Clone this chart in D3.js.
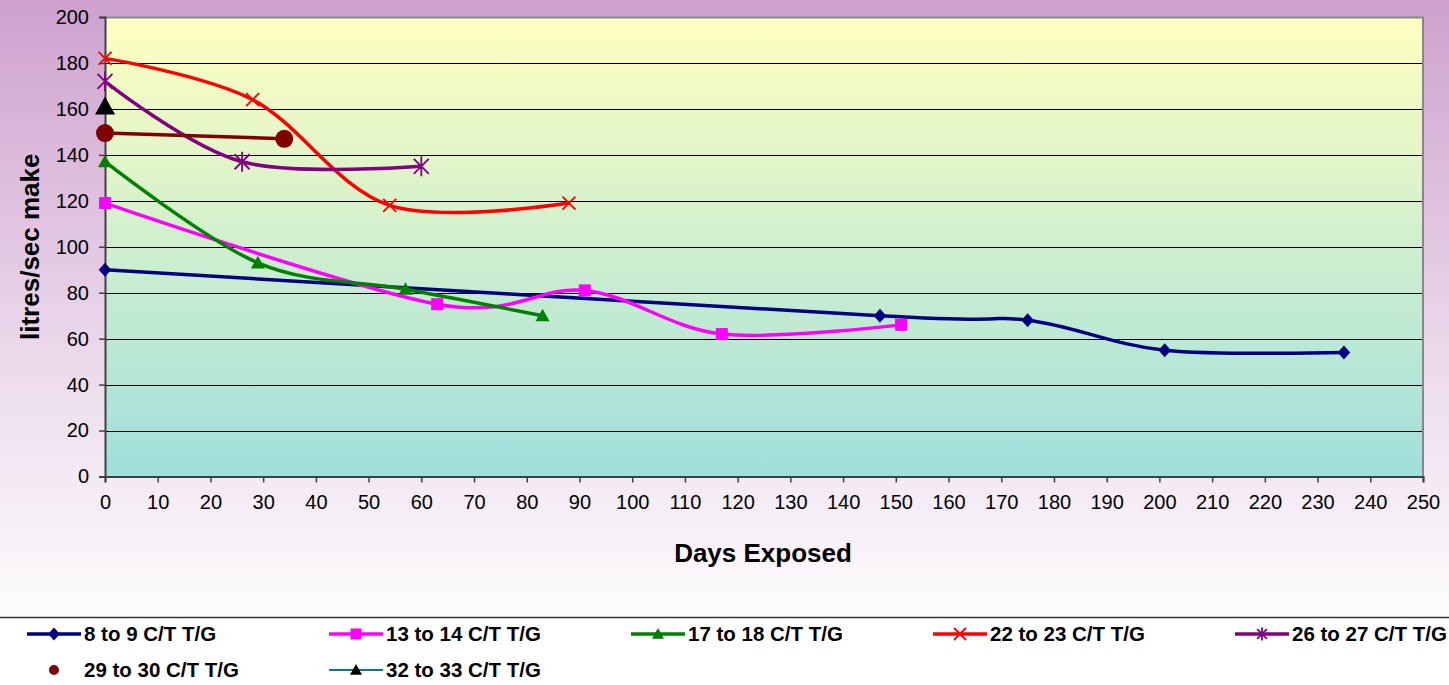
<!DOCTYPE html>
<html>
<head>
<meta charset="utf-8">
<script src="https://cdn.jsdelivr.net/npm/d3@7"></script>
<style>
  body { margin: 0; background: #fff; }
  svg { display: block; font-family: Arial, "Liberation Sans", sans-serif; }
</style>
</head>
<body>
<svg id="chart" width="1449" height="685"></svg>
<script>
// Data
var seriesNames = ["8 to 9 C/T T/G", "13 to 14 C/T T/G", "17 to 18 C/T T/G", "22 to 23 C/T T/G",
                   "26 to 27 C/T T/G", "29 to 30 C/T T/G", "32 to 33 C/T T/G"];
var days8 = [0, 147, 175, 201, 235];
var flow8 = [90, 70, 68, 55, 54];
var days13 = [0, 63, 91, 117, 151];
var flow13 = [119, 75, 81, 62, 66];
var days17 = [0, 29, 57, 83];
var flow17 = [137, 93, 81.5, 70];
var days22 = [0, 28, 54, 88];
var flow22 = [182, 164, 118, 119];
var days26 = [0, 26, 60];
var flow26 = [172, 137, 135];
var days29 = [0, 34];
var flow29 = [149.5, 147];
var days32 = [0];
var flow32 = [161];

var xTicks = [0, 10, 20, 30, 40, 50, 60, 70, 80, 90, 100, 110, 120, 130, 140, 150, 160, 170, 180, 190, 200, 210, 220, 230, 240, 250];
var yTicks = [0, 20, 40, 60, 80, 100, 120, 140, 160, 180, 200];

// Styles
var lineColors = ["#000080", "#ff00ff", "#008000", "#ff0000", "#800080", "#800000", "#008080"];
var markerColors = ["#000080", "#ff00ff", "#008000", "#ff0000", "#800080", "#800000", "#000000"];
var markerTypes = ["diamond", "square", "triangle", "x", "star", "circle", "triangle"];
var markerSizes = [14, 12, 14, 13, 20, 18, 20];
var legendMarkerSizes = [13, 11, 12, 12, 13, 10, 12];

var allDays = [days8, days13, days17, days22, days26, days29, days32];
var allFlows = [flow8, flow13, flow17, flow22, flow26, flow29, flow32];

var series = allDays.map(function(d, i) {
  return d.map(function(x, j) { return {x: x, y: allFlows[i][j]}; });
});

var svg = d3.select("#chart");
var W = 1449, H = 685;

// Setup margins
const margin = { top: 17, left: 105, right: 26, bottom: 208.5 };
var width = W - margin.left - margin.right;
var height = H - margin.top - margin.bottom;
var legendTop = 617;

// Backgrounds
var defs = svg.append("defs");
var outerGrad = defs.append("linearGradient").attr("id", "outerGrad")
  .attr("x1", 0).attr("y1", 0).attr("x2", 0).attr("y2", 1);
outerGrad.append("stop").attr("offset", "0%").attr("stop-color", "#cea1ce");
outerGrad.append("stop").attr("offset", "55%").attr("stop-color", "#ead7ea");
outerGrad.append("stop").attr("offset", "100%").attr("stop-color", "#fdfcfd");

var plotGrad = defs.append("linearGradient").attr("id", "plotGrad")
  .attr("x1", 0).attr("y1", 0).attr("x2", 0).attr("y2", 1);
plotGrad.append("stop").attr("offset", "0%").attr("stop-color", "#ffffc0");
plotGrad.append("stop").attr("offset", "100%").attr("stop-color", "#a0dfdc");

svg.append("rect").attr("x", 0).attr("y", 0).attr("width", W).attr("height", legendTop)
  .attr("fill", "url(#outerGrad)");
svg.append("rect").attr("x", 0).attr("y", legendTop).attr("width", W).attr("height", H - legendTop)
  .attr("fill", "#ffffff");
svg.append("line").attr("x1", 0).attr("x2", W).attr("y1", legendTop + 0.5).attr("y2", legendTop + 0.5)
  .attr("stroke", "#333").attr("stroke-width", 1.5);

const plot = svg.append("g")
  .attr("transform", `translate(${margin.left}, ${margin.top})`);

const xscale = d3.scaleLinear().domain([0, 250]).range([0, width]);
const yscale = d3.scaleLinear().domain([0, 200]).range([height, 0]);

plot.append("rect").attr("width", width).attr("height", height).attr("fill", "url(#plotGrad)");

// Gridlines
plot.append("g")
  .selectAll("line")
  .data(yTicks.filter(function(d) { return d > 0; }))
  .enter()
  .append("line")
  .attr("x1", 0).attr("x2", width)
  .attr("y1", function(d) { return Math.round(yscale(d)) + 0.5; })
  .attr("y2", function(d) { return Math.round(yscale(d)) + 0.5; })
  .attr("stroke", "#000").attr("stroke-width", 1);

// Plot border (top/right grey)
plot.append("path")
  .attr("d", `M0,0.5H${width}V${height}`)
  .attr("fill", "none").attr("stroke", "#888").attr("stroke-width", 2);

// Axes
const xaxis = d3.axisBottom(xscale).tickValues(xTicks).tickSize(6).tickPadding(12);
const yaxis = d3.axisLeft(yscale).tickValues(yTicks).tickSize(6).tickPadding(10);

var gx = plot.append("g").attr("transform", `translate(0,${height})`).call(xaxis);
var gy = plot.append("g").call(yaxis);
[gx, gy].forEach(function(g) {
  g.select(".domain").attr("stroke", "#404040").attr("stroke-width", 2);
  g.selectAll(".tick line").attr("stroke", "#404040").attr("stroke-width", 1.5);
  g.selectAll(".tick text").attr("fill", "#000").style("font-size", "20px")
    .style("font-family", "Arial, 'Liberation Sans', sans-serif");
});

// Axis titles
svg.append("text")
  .attr("x", 763).attr("y", 562)
  .attr("text-anchor", "middle")
  .style("font-size", "26px").style("font-weight", "bold")
  .text("Days Exposed");

svg.append("text")
  .attr("transform", "translate(39," + (margin.top + height / 2) + ") rotate(-90)")
  .attr("text-anchor", "middle")
  .style("font-size", "26px").style("font-weight", "bold")
  .text("litres/sec make");

// Markers
function markerPath(type, s) {
  var p = d3.path(), h = s / 2;
  if (type == "diamond") {
    p.moveTo(0, -h); p.lineTo(h * 0.9, 0); p.lineTo(0, h); p.lineTo(-h * 0.9, 0); p.closePath();
  } else if (type == "square") {
    p.rect(-h, -h, s, s);
  } else if (type == "triangle") {
    p.moveTo(0, -h); p.lineTo(h, h * 0.8); p.lineTo(-h, h * 0.8); p.closePath();
  } else if (type == "circle") {
    p.moveTo(h, 0); p.arc(0, 0, h, 0, 2 * Math.PI);
  } else if (type == "x") {
    p.moveTo(-h, -h); p.lineTo(h, h); p.moveTo(-h, h); p.lineTo(h, -h);
  } else if (type == "star") {
    var k = h * 0.75;
    p.moveTo(-k, -k); p.lineTo(k, k); p.moveTo(-k, k); p.lineTo(k, -k);
    p.moveTo(0, -h); p.lineTo(0, h);
  }
  return p.toString();
}

function drawMarker(g, type, color, s) {
  var stroked = (type == "x" || type == "star");
  g.append("path")
    .attr("d", markerPath(type, s))
    .attr("fill", stroked ? "none" : color)
    .attr("stroke", color)
    .attr("stroke-width", stroked ? 1.8 : 0);
}

// Lines
var line = d3.line()
  .x(function(d) { return xscale(d.x); })
  .y(function(d) { return yscale(d.y); })
  .curve(d3.curveCardinal);

series.forEach(function(data, i) {
  if (data.length > 1) {
    plot.append("path")
      .datum(data)
      .attr("d", line)
      .attr("fill", "none")
      .attr("stroke", lineColors[i])
      .attr("stroke-width", 3.5)
      .attr("stroke-linejoin", "round");
  }
});

series.forEach(function(data, i) {
  data.forEach(function(d) {
    var g = plot.append("g").attr("transform", `translate(${xscale(d.x)},${yscale(d.y)})`);
    drawMarker(g, markerTypes[i], markerColors[i], markerSizes[i]);
  });
});

// Legend
var legendX0 = 27, legendStep = 302;
var legendRows = [634, 670];
seriesNames.forEach(function(name, i) {
  var col = i % 5, row = Math.floor(i / 5);
  var lx = legendX0 + col * legendStep, ly = legendRows[row];
  var g = svg.append("g").attr("transform", `translate(${lx},${ly})`);
  if (i != 5) {
    g.append("line").attr("x1", 0).attr("x2", 54).attr("y1", 0).attr("y2", 0)
      .attr("stroke", lineColors[i]).attr("stroke-width", i == 6 ? 2 : 3.5);
  }
  var m = g.append("g").attr("transform", "translate(27,0)");
  drawMarker(m, markerTypes[i], markerColors[i], legendMarkerSizes[i]);
  g.append("text")
    .attr("x", 57).attr("y", 0).attr("dy", "0.36em")
    .style("font-size", "20.5px").style("font-weight", "bold")
    .text(name);
});
</script>
</body>
</html>
